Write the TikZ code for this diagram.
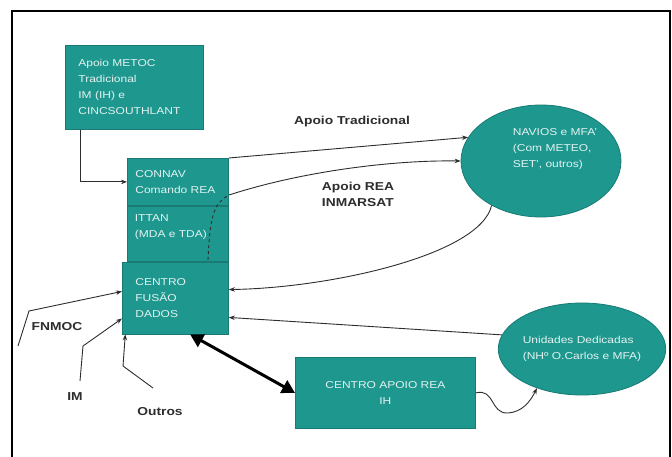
\documentclass[tikz,border=0pt]{standalone}
\usepackage{fontspec}
\setmainfont{Liberation Sans}[FakeStretch=1.2]
\usepackage{tikz}
\usetikzlibrary{calc,positioning}
\usetikzlibrary{shapes}
\usetikzlibrary{arrows.meta}
\usepackage{xcolor}
\definecolor{tealfill}{RGB}{30,152,143}
\definecolor{tealline}{RGB}{24,122,115}
\definecolor{boxtext}{RGB}{228,242,240}
\definecolor{ink}{RGB}{45,45,45}

\begin{document}
\begin{tikzpicture}[x=1pt,y=-1pt,
	box/.style = {draw=tealline, fill=tealfill, line width=0.8pt, inner ysep=0pt, anchor=north west, align=left, text=boxtext, font=\fontsize{10}{16}\selectfont},
	oval/.style = {ellipse, draw=tealline, fill=tealfill, line width=0.8pt, inner sep=0pt, align=left, text=boxtext, font=\fontsize{10}{16}\selectfont},
	ovaltext/.style = {align=left, text=boxtext, font=\fontsize{10}{16}\selectfont},
	arr/.style = {draw=ink, line width=0.9pt, -{Stealth[length=6pt,width=4.5pt]}},
	dbl/.style = {draw=black, line width=3pt, {Triangle[length=13pt,width=14pt]}-{Triangle[length=13pt,width=14pt]}},
	lbl/.style = {text=ink, align=left, font=\bfseries\fontsize{11.5}{16}\selectfont}]
		\useasboundingbox (0,0) rectangle (672,457);
		\draw[line width=1.1pt] (12,457) -- (12,11) -- (670,11) -- (670,457);
		% boxes
		\node[box, inner xsep=13pt, text width=112pt, minimum height=84pt] (metoc) at (65,45) {Apoio~METOC\\Tradicional\\IM~(IH)~e\\CINCSOUTHLANT};
		\node[box, inner xsep=8pt, text width=85pt, minimum height=47pt] (connav) at (127,158) {CONNAV\\Comando~REA};
		\node[box, inner xsep=8pt, text width=85pt, minimum height=55pt, below=0pt of connav, label={[ovaltext, yshift=7pt, xshift=-7pt]center:{ITTAN\\(MDA~e~TDA)}}] (ittan) {};
		\node[box, inner xsep=13pt, text width=80pt, minimum height=72pt, below=0pt of ittan.south east, anchor=north east] (fusao) {CENTRO\\FUSÃO\\DADOS};
		\node[box, align=center, inner xsep=0pt, text width=180pt, minimum height=71pt] (apoio) at (295,357) {CENTRO~APOIO~REA\\IH};
		% ovals
		\node[oval, minimum width=160pt, minimum height=112pt, label={[ovaltext, yshift=12pt, xshift=14pt]center:{NAVIOS~e~MFA'\\(Com~METEO,\\SET',~outros)}}] (navios) at (541,161) {};
		\node[oval, minimum width=138pt, minimum height=92pt] (unidades) at (582,349) {Unidades~Dedicadas\\(NHº~O.Carlos~e~MFA)};
		% free ends
		\coordinate (reaA) at (208,260);
		\coordinate (reaB) at (229,195);
		\coordinate (fnA) at (18,346);
		\coordinate (fnB) at (29,311);
		\coordinate (imA) at (80,381);
		\coordinate (imB) at (83,346);
		\coordinate (otA) at (153,388);
		\coordinate (otB) at (123,366);
		% labels
		\node[lbl] (tradlbl) at (352,122) {Apoio Tradicional};
		\node[lbl] (realbl) at (358,194) {Apoio REA\\INMARSAT};
		\node[lbl] (fnlbl) at (57,327) {FNMOC};
		\node[lbl] (imlbl) at (75,397) {IM};
		\node[lbl] (otlbl) at (160,412) {Outros};
		% connectors
		\draw[arr] ($(metoc.south west)+(15,0)$) |- (connav);
		\draw[arr] (connav.north east) -- (navios.162);
		\draw[draw=ink, line width=0.9pt, dashed] (reaA) .. controls (210,215) and (214,203) .. (reaB);
		\draw[arr] (reaB) .. controls (300,172) and (390,160) .. (navios.west);
		\draw[arr] (navios.222) .. controls (480,255) and (330,288) .. (fusao.9);
		\draw[arr] (unidades.170) -- (fusao.-20);
		\draw[arr] (apoio.east) .. controls (495,388) and (490,414) .. (508,413) .. controls (522,412) and (530,402) .. (unidades.221);
		\draw[dbl] (fusao.-68) -- (apoio.west);
		\draw[arr] (fnA) -- (fnB) -- (fusao.173);
		\draw[arr] (imA) -- (imB) -- (fusao.201);
		\draw[arr] (otA) -- (otB) -- (fusao.216);
	\end{tikzpicture}
\end{document}
